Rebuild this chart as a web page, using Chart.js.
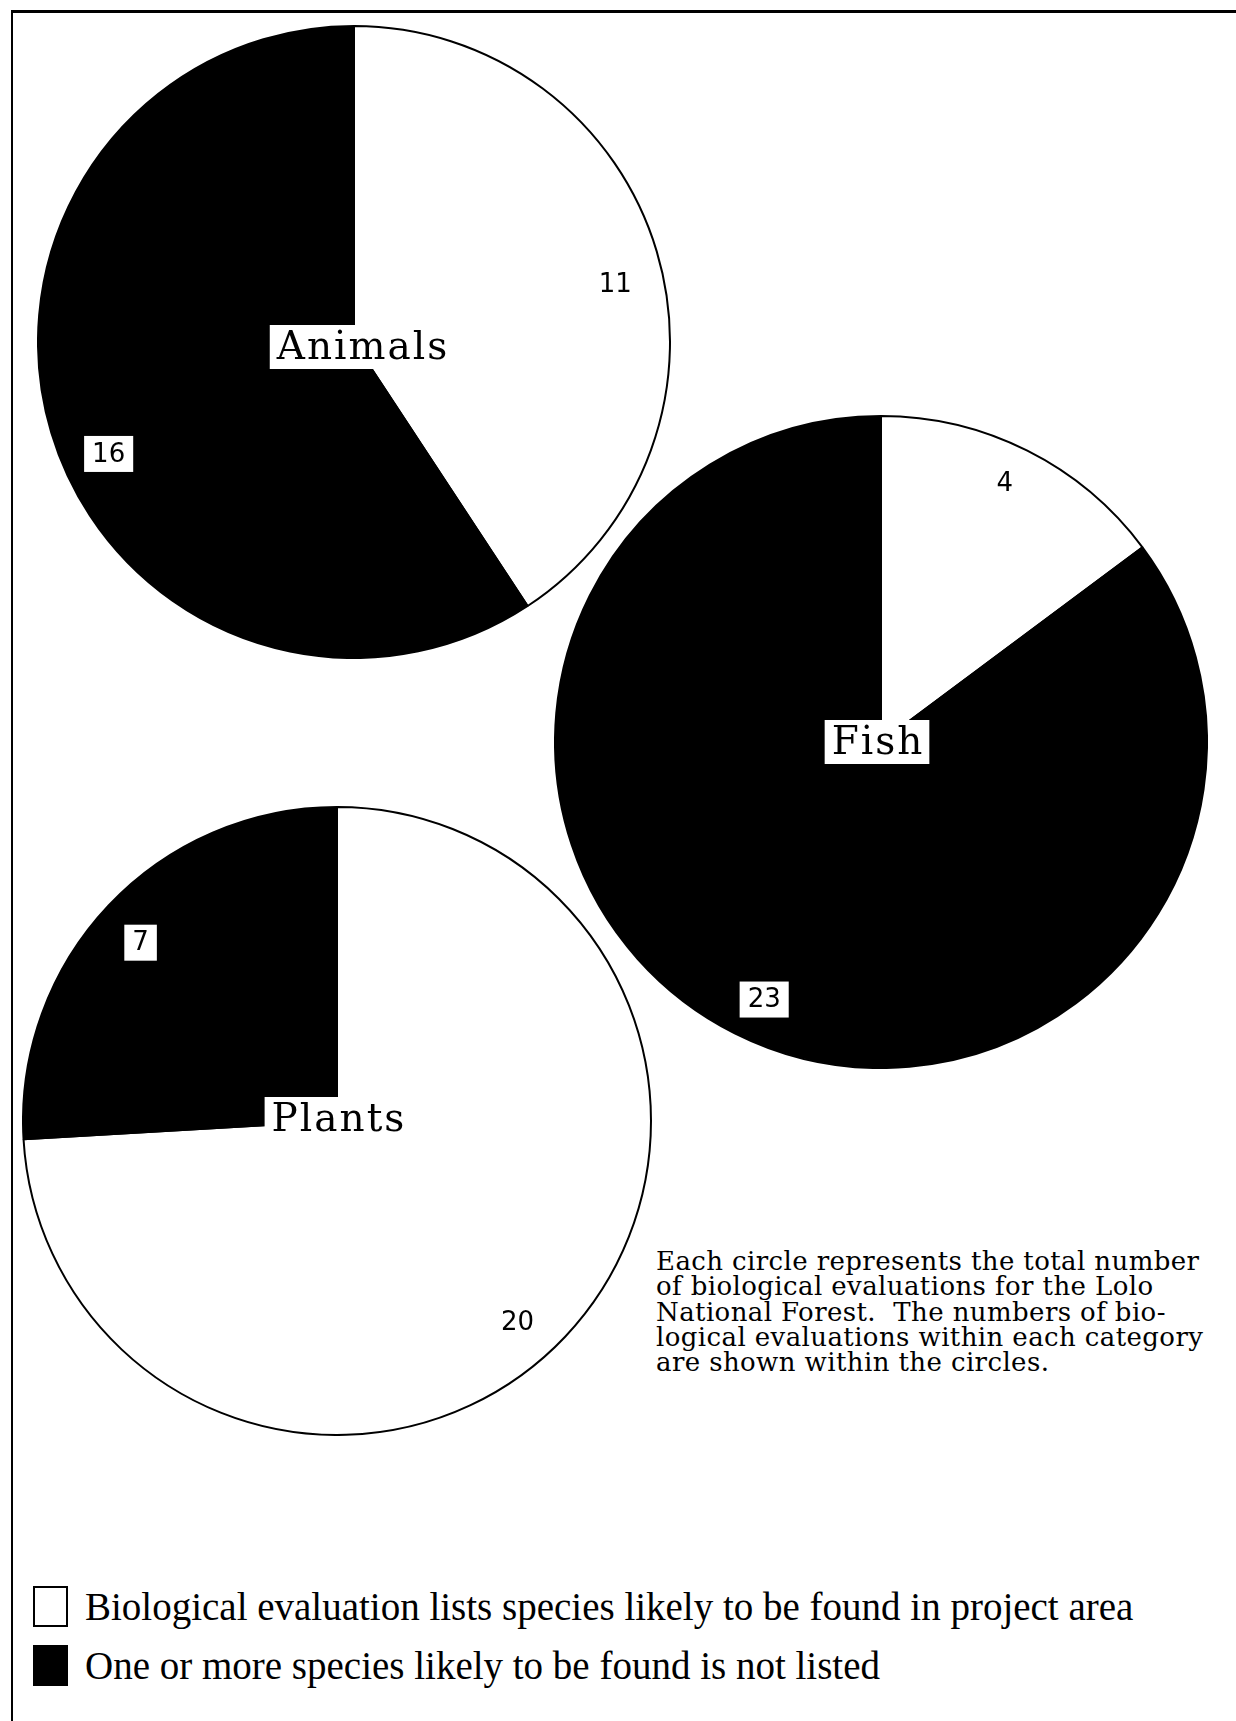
<!DOCTYPE html>
<html>
<head>
<meta charset="utf-8">
<script src="https://cdn.jsdelivr.net/npm/chart.js@4.4.0/dist/chart.umd.min.js"></script>
<style>
  html, body { margin: 0; padding: 0; background: #fff; }
  #page { position: relative; width: 1236px; height: 1721px; overflow: hidden; background: #fff; }
  #frame { position: absolute; left: 11px; top: 10px; right: -10px; bottom: -10px;
           border-top: 3px solid #000; border-left: 2px solid #000; }
  .pie { position: absolute; }
  #note { position: absolute; left: 656px; top: 1249px; color: #000;
          font: 26px/25.3px "DejaVu Serif", serif; letter-spacing: 0.4px; white-space: pre; }
  .legend-row { position: absolute; left: 33px; display: flex; align-items: center;
                font: 39px "Liberation Serif", serif; color: #000; white-space: pre; }
  .swatch { width: 31px; height: 37px; border: 2px solid #000; margin-right: 17px; }
</style>
</head>
<body>
<div id="page">
  <div id="frame"></div>
  <div id="note"></div>
</div>
<script>
// data
const categories = ["Animals", "Fish", "Plants"];
const listed = [11, 4, 20];      // white slices
const notListed = [16, 23, 7];   // black slices
const legendLabels = [
  "Biological evaluation lists species likely to be found in project area",
  "One or more species likely to be found is not listed"
];
const noteLines = [
  "Each circle represents the total number",
  "of biological evaluations for the Lolo",
  "National Forest.  The numbers of bio-",
  "logical evaluations within each category",
  "are shown within the circles."
];

// where each circle sits on the page
const pieLayout = [
  { cx: 354, cy: 342, r: 316 },
  { cx: 881, cy: 742, r: 326 },
  { cx: 337, cy: 1121, r: 314 }
];
// hand placement of the labels in the original, as small shifts
const numberNudge = [
  [[1, 20], [15, 34]],
  [[-2, -8], [9, 7]],
  [[-16, 16], [0, 7]]
];
const nameNudge = [[8, 5], [-4, 0], [1, -2]];
const sliceColors = ["#ffffff", "#000000"];

// numbers in boxes along each slice, category name boxed at the centre
const sliceLabels = {
  id: "sliceLabels",
  afterDatasetsDraw(chart, args, opts) {
    const ctx = chart.ctx;
    const meta = chart.getDatasetMeta(0);
    const values = chart.data.datasets[0].data;
    ctx.save();
    ctx.textAlign = "center";
    ctx.textBaseline = "middle";
    ctx.font = '26px "DejaVu Sans", sans-serif';
    meta.data.forEach((arc, i) => {
      const p = arc.getProps(["x", "y", "startAngle", "endAngle", "outerRadius"], true);
      const mid = (p.startAngle + p.endAngle) / 2;
      const x = p.x + Math.cos(mid) * p.outerRadius * 0.86 + opts.nudge[i][0];
      const y = p.y + Math.sin(mid) * p.outerRadius * 0.86 + opts.nudge[i][1];
      const txt = String(values[i]);
      const w = ctx.measureText(txt).width + 16;
      const h = 36;
      ctx.fillStyle = "#fff";
      ctx.fillRect(x - w / 2, y - h / 2, w, h);
      ctx.fillStyle = "#000";
      ctx.fillText(txt, x, y + 1);
    });
    const c = meta.data[0].getProps(["x", "y"], true);
    const cx = c.x + opts.nameNudge[0];
    const cy = c.y + opts.nameNudge[1];
    ctx.font = '39px "DejaVu Serif", serif';
    ctx.letterSpacing = "2px";
    const w = ctx.measureText(opts.name).width + 12;
    const h = 44;
    ctx.fillStyle = "#fff";
    ctx.fillRect(cx - w / 2, cy - h / 2, w, h);
    ctx.fillStyle = "#000";
    ctx.fillText(opts.name, cx + 1, cy + 2);
    ctx.restore();
  }
};

const page = document.getElementById("page");

categories.forEach((name, i) => {
  const L = pieLayout[i];
  const box = document.createElement("div");
  box.className = "pie";
  const size = 2 * L.r + 2;
  box.style.left = (L.cx - size / 2) + "px";
  box.style.top = (L.cy - size / 2) + "px";
  box.style.width = size + "px";
  box.style.height = size + "px";
  const cv = document.createElement("canvas");
  box.appendChild(cv);
  page.appendChild(box);

  new Chart(cv.getContext("2d"), {
    type: "pie",
    data: {
      labels: legendLabels,
      datasets: [{
        data: [listed[i], notListed[i]],
        backgroundColor: sliceColors,
        borderColor: "#000",
        borderWidth: 2
      }]
    },
    options: {
      responsive: true,
      maintainAspectRatio: false,
      animation: false,
      layout: { padding: 0 },
      plugins: {
        legend: { display: false },
        tooltip: { enabled: false },
        sliceLabels: { name: name, nudge: numberNudge[i], nameNudge: nameNudge[i] }
      }
    },
    plugins: [sliceLabels]
  });
});

// note text
document.getElementById("note").textContent = noteLines.join("\n");

// legend
const legendTops = [1584, 1643];
legendLabels.forEach((label, i) => {
  const row = document.createElement("div");
  row.className = "legend-row";
  row.style.top = legendTops[i] + "px";
  const sw = document.createElement("div");
  sw.className = "swatch";
  sw.style.background = sliceColors[i];
  const t = document.createElement("span");
  t.textContent = label;
  row.appendChild(sw);
  row.appendChild(t);
  page.appendChild(row);
});
</script>
</body>
</html>
